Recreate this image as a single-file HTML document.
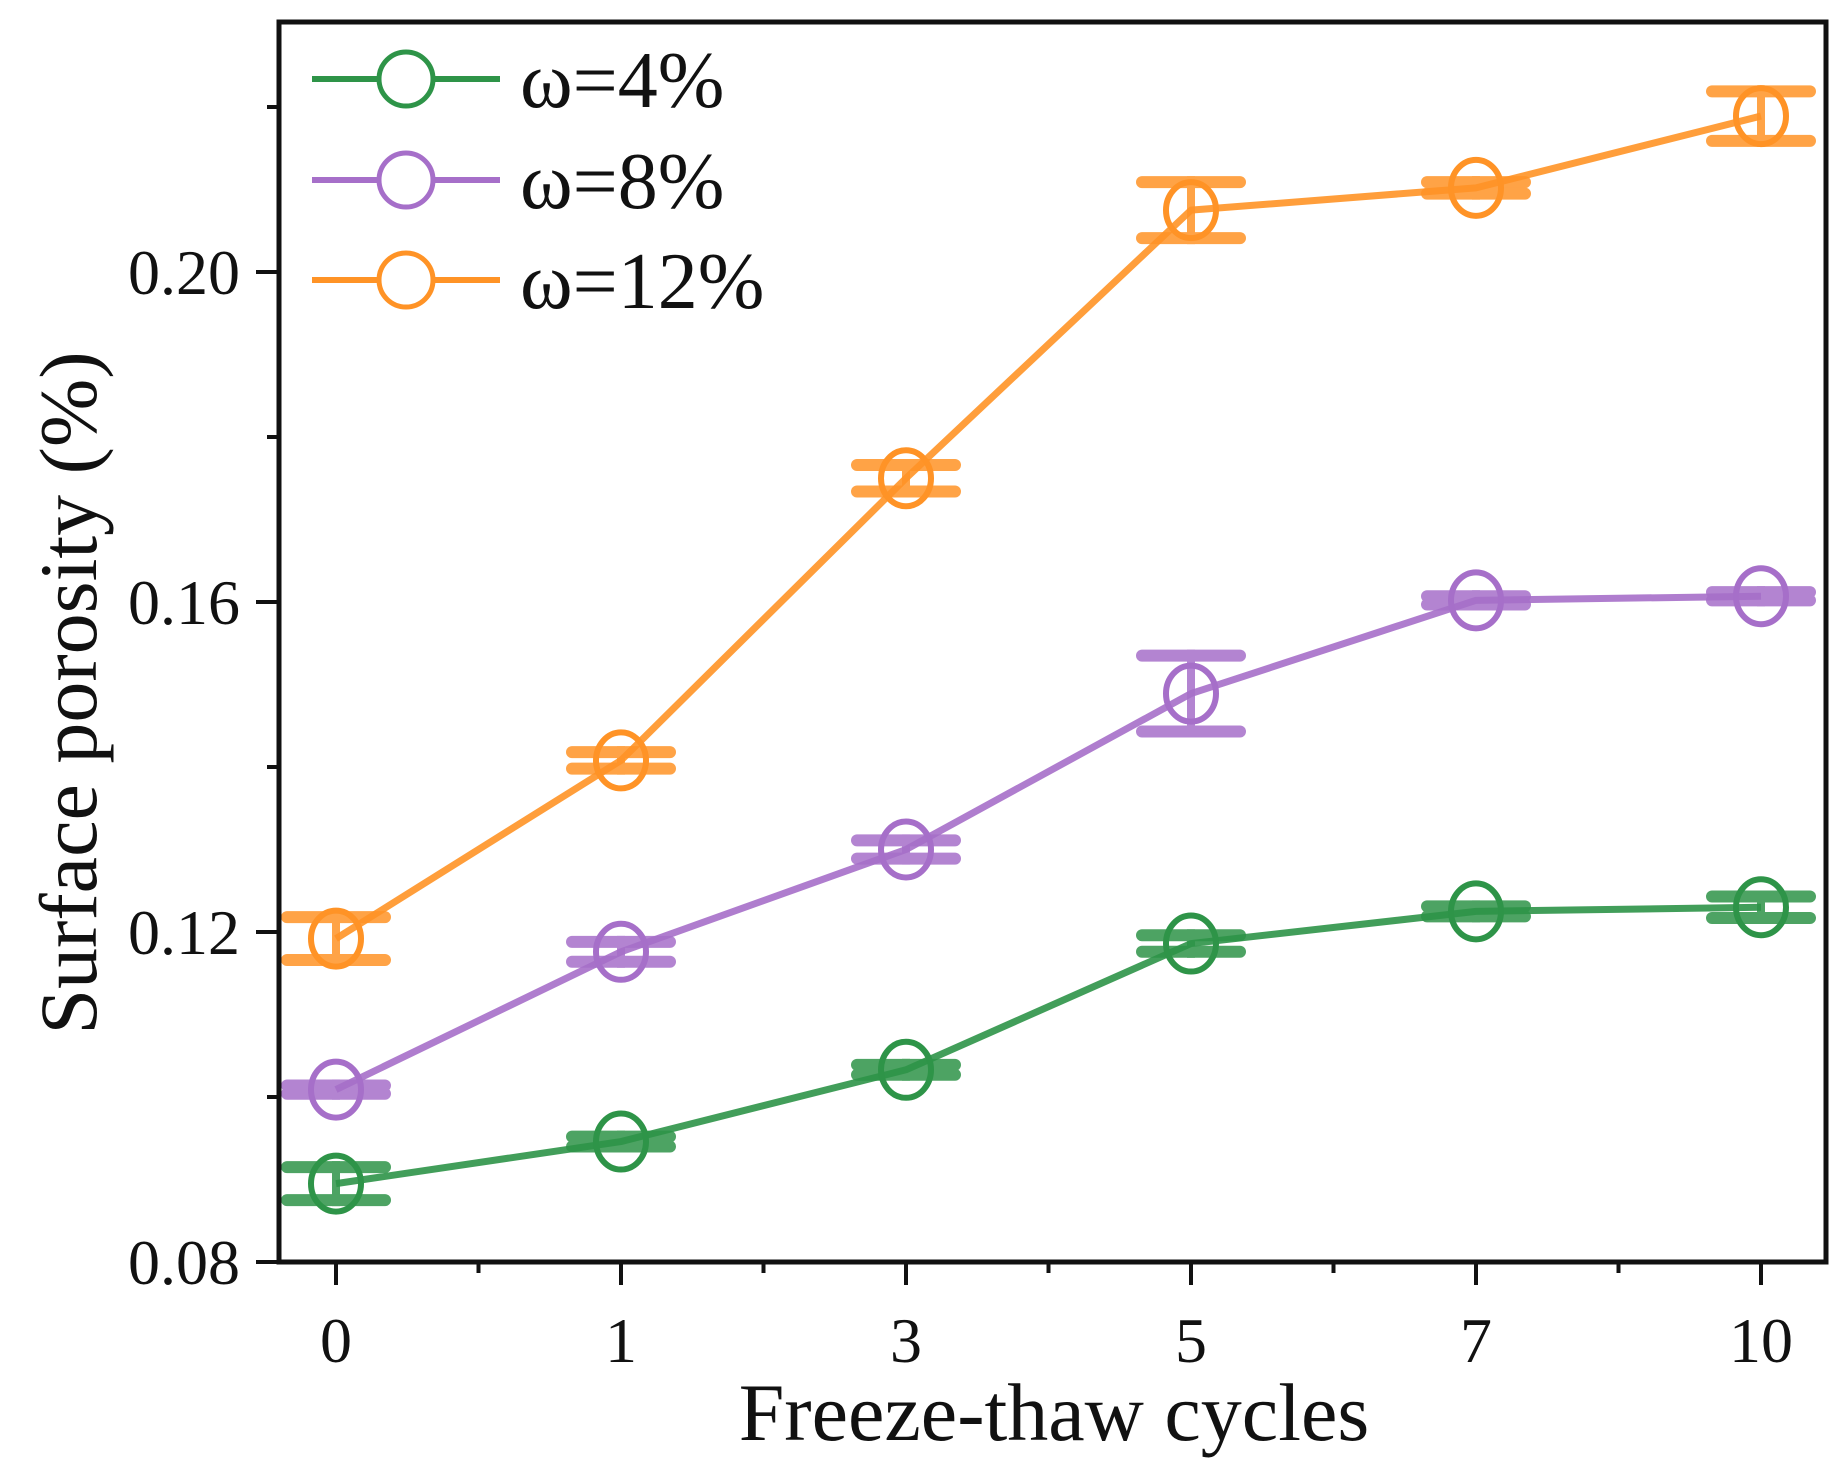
<!DOCTYPE html>
<html><head><meta charset="utf-8"><style>
html,body{margin:0;padding:0;background:#fff;}
svg{display:block;}
text{font-family:"Liberation Serif","DejaVu Serif",serif;fill:#111;}
</style></head><body>
<svg id="chart" width="1840" height="1473" viewBox="0 0 1840 1473" xmlns="http://www.w3.org/2000/svg">
<g id="grid"></g>
<g id="series"></g>
<rect x="279" y="22" width="1547" height="1240" fill="none" stroke="#111" stroke-width="5"/>
<g id="axes"></g>
<text transform="translate(96,693) rotate(-90)" text-anchor="middle" font-size="82">Surface porosity (%)</text>
<text x="1054" y="1440" text-anchor="middle" font-size="82">Freeze-thaw cycles</text>
<g id="legend"></g>
</svg>
<script>
const categories = ["0","1","3","5","7","10"];
const yTicks = [0.08,0.12,0.16,0.20];
const yTickLabels = ["0.08","0.12","0.16","0.20"];
const yMinorTicks = [0.10,0.14,0.18,0.22];
const seriesNames = ["ω=4%","ω=8%","ω=12%"];
const green = [0.0895,0.0946,0.1033,0.1186,0.1225,0.1230];
const purple = [0.1009,0.1176,0.1300,0.1489,0.1602,0.1607];
const orange = [0.1192,0.1408,0.1750,0.2075,0.2102,0.2189];
const greenErr = [0.0020,0.0006,0.0006,0.0010,0.0006,0.0013];
const purpleErr = [0.0005,0.0012,0.0011,0.0046,0.0005,0.0005];
const orangeErr = [0.0026,0.0010,0.0016,0.0034,0.0007,0.0030];

const NS="http://www.w3.org/2000/svg";
const x0=336, dx=285;
function xPos(i){return x0+i*dx;}
function yPos(v){return 1262-(v-0.08)/0.04*330;}
function mk(tag,attrs,parent){const e=document.createElementNS(NS,tag);for(const k in attrs)e.setAttribute(k,attrs[k]);parent.appendChild(e);return e;}

const axes=document.getElementById('axes');
categories.forEach((c,i)=>{
  const t=mk('line',{x1:xPos(i),x2:xPos(i),y1:1262,y2:1285,stroke:'#111','stroke-width':4},axes);
  
  
  const l=mk('text',{x:xPos(i),y:1362,'text-anchor':'middle','font-size':64},axes);
  l.textContent=c;
  
  
  if(i<categories.length-1){
    const m=mk('line',{x1:xPos(i+0.5),x2:xPos(i+0.5),y1:1262,y2:1273,stroke:'#111','stroke-width':4},axes);
    
    
  }
});
yTicks.forEach((v,i)=>{
  const t=mk('line',{x1:256,x2:279,y1:yPos(v),y2:yPos(v),stroke:'#111','stroke-width':4},axes);
  
  
  const l=mk('text',{x:240,y:yPos(v)+22,'text-anchor':'end','font-size':64},axes);
  l.textContent=yTickLabels[i];
  
  
});
yMinorTicks.forEach(v=>{
  const t=mk('line',{x1:267,x2:279,y1:yPos(v),y2:yPos(v),stroke:'#111','stroke-width':4},axes);
  
  
});

const colors=['#2e9448','#a66fc9','#ff9326'];
const data=[green,purple,orange];
const errs=[greenErr,purpleErr,orangeErr];
const sg=document.getElementById('series');
data.forEach((vals,s)=>{
  const g=mk('g',{},sg);
  
  
  const pts=vals.map((v,i)=>xPos(i)+','+yPos(v)).join(' ');
  const pl=mk('polyline',{points:pts,fill:'none',stroke:colors[s],'stroke-width':7,'stroke-opacity':0.9,'stroke-linejoin':'round'},g);
  
  
  vals.forEach((v,i)=>{
    const cx=xPos(i), cy=yPos(v), e=errs[s][i];
    const yt=yPos(v+e), yb=yPos(v-e);
    const eb=mk('g',{opacity:0.85},g);
    
    
    mk('line',{x1:cx,x2:cx,y1:yt-6,y2:yb+6,stroke:colors[s],'stroke-width':8},eb);
    mk('line',{x1:cx-49,x2:cx+49,y1:yt,y2:yt,stroke:colors[s],'stroke-width':12,'stroke-linecap':'round'},eb);
    mk('line',{x1:cx-49,x2:cx+49,y1:yb,y2:yb,stroke:colors[s],'stroke-width':12,'stroke-linecap':'round'},eb);
    const c=mk('ellipse',{cx:cx,cy:cy,rx:25,ry:28,fill:'none',stroke:colors[s],'stroke-width':6},g);
    
    
  });
});

const lg=document.getElementById('legend');
[79,180,280].forEach((y,s)=>{
  const g=mk('g',{},lg);
  
  
  mk('line',{x1:312,x2:500,y1:y,y2:y,stroke:colors[s],'stroke-width':6},g);
  mk('circle',{cx:406,cy:y,r:27,fill:'#fff',stroke:colors[s],'stroke-width':5},g);
  const t=mk('text',{x:520,y:y+28,'font-size':80},g);
  t.textContent=seriesNames[s];
});
</script>
</body></html>
